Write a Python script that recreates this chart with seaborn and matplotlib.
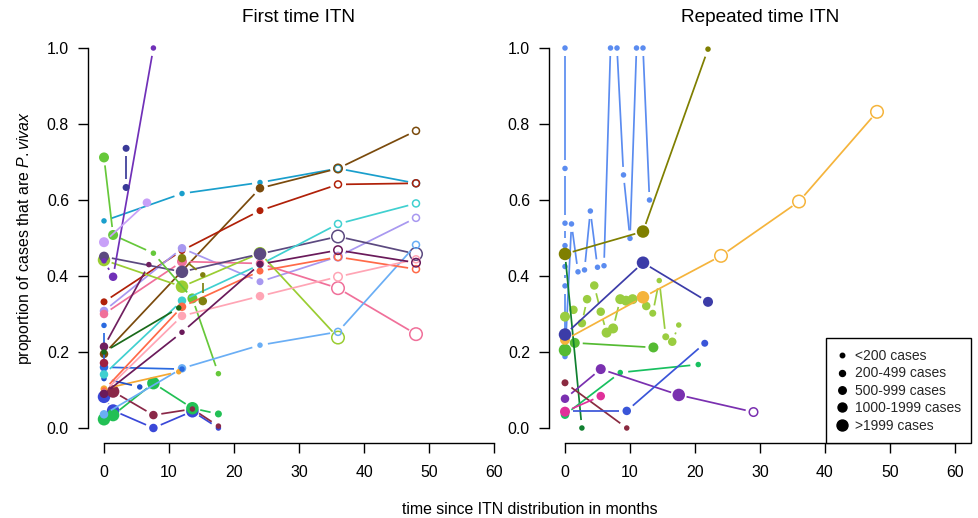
import numpy as np
import pandas as pd
import matplotlib
matplotlib.use("Agg")
import matplotlib.pyplot as plt
from matplotlib.lines import Line2D
import seaborn as sns

# ---------------- data: First time ITN ----------------
# (months, proportion P.vivax, case-size class 1..5, open marker flag)
f_cyan = ([0, 12, 24, 36, 48], [0.545, 0.617, 0.646, 0.683, 0.644], [1, 1, 1, 2, 2], [0, 0, 0, 1, 1])
f_brown = ([0, 24, 36, 48], [0.195, 0.631, 0.683, 0.782], [3, 3, 3, 2], [0, 0, 1, 1])
f_darkred = ([0, 12, 24, 36, 48], [0.332, 0.467, 0.572, 0.641, 0.644], [2, 2, 2, 2, 2], [0, 0, 0, 1, 1])
f_lavender = ([0, 12, 24, 36, 48], [0.308, 0.473, 0.385, 0.451, 0.553], [3, 3, 2, 3, 2], [0, 0, 0, 1, 1])
f_pink = ([0, 12, 24, 36, 48], [0.300, 0.438, 0.433, 0.368, 0.247], [3, 4, 3, 5, 5], [0, 0, 0, 1, 1])
f_yellowgreen = ([0, 12, 24, 36], [0.442, 0.372, 0.460, 0.238], [5, 5, 5, 5], [0, 0, 0, 1])
f_slate = ([0, 12, 24, 36, 48], [0.451, 0.411, 0.458, 0.504, 0.458], [4, 5, 5, 5, 5], [0, 0, 0, 1, 1])
f_lime = ([0, 1.4, 7.6, 13.6, 17.6], [0.712, 0.508, 0.460, 0.341, 0.143], [4, 4, 1, 4, 1], [0, 0, 0, 0, 0])
f_purple = ([0, 1.4, 7.6], [0.440, 0.398, 1.000], [1, 3, 1], [0, 0, 0])
f_navy = ([3.4, 3.4], [0.736, 0.633], [2, 2], [0, 0])
f_royal = ([0, 1.4, 7.6, 13.6, 17.6], [0.082, 0.046, 0.000, 0.044, 0.000], [5, 5, 3, 5, 1], [0, 0, 0, 0, 0])
f_green = ([0, 1.4, 7.6, 13.6, 17.6], [0.023, 0.034, 0.118, 0.052, 0.037], [5, 5, 5, 5, 2], [0, 0, 0, 0, 0])
f_maroon = ([1.4, 7.6, 13.6, 17.6], [0.096, 0.034, 0.050, 0.005], [5, 3, 1, 1], [0, 0, 0, 0])
f_lightblue = ([0, 12, 24, 36, 48], [0.036, 0.157, 0.218, 0.253, 0.482], [3, 3, 1, 2, 2], [0, 0, 0, 1, 1])
f_orange = ([0, 11.5], [0.103, 0.148], [2, 1], [0, 0])
f_blue = ([0, 0, 12], [0.270, 0.160, 0.155], [1, 3, 1], [0, 0, 0])
f_blue2 = ([0, 5.5], [0.130, 0.108], [1, 1], [0, 0])
f_turq = ([0, 12, 24, 36, 48], [0.141, 0.335, 0.430, 0.537, 0.591], [3, 3, 2, 2, 2], [0, 0, 0, 1, 1])
f_coral = ([0, 12, 24, 36, 48], [0.100, 0.319, 0.413, 0.450, 0.418], [1, 3, 2, 2, 2], [0, 0, 0, 1, 1])
f_lightpink = ([0, 12, 24, 36, 48], [0.095, 0.295, 0.347, 0.398, 0.444], [1, 3, 3, 3, 2], [0, 0, 0, 1, 1])
f_plum = ([0, 6.9], [0.214, 0.430], [3, 1], [0, 0])
f_plum2 = ([0, 12, 24, 36, 48], [0.090, 0.252, 0.431, 0.468, 0.435], [3, 1, 2, 3, 3], [0, 0, 0, 1, 1])
f_olive = ([12, 15.2, 15.2], [0.447, 0.403, 0.334], [3, 1, 3], [0, 0, 0])
f_darkgreen = ([0, 11.5], [0.200, 0.316], [1, 1], [0, 0])
f_crimson = ([0], [0.171], [3], [0])
f_lilac = ([0, 6.6], [0.489, 0.593], [4, 3], [0, 0])

# ---------------- data: Repeated time ITN ----------------
r_cornflower = ([0, 0, 0, 0, 0, 0, 0, 1, 2, 3, 3.9, 5, 6, 7, 8, 9, 10, 11, 12, 13],
                [1.0, 0.683, 0.539, 0.480, 0.425, 0.374, 0.188, 0.537, 0.411, 0.416, 0.571,
                 0.423, 0.427, 1.0, 1.0, 0.666, 0.499, 1.0, 1.0, 0.600],
                [1] * 20, [0] * 20)
r_yellowgreen = ([0, 1.3, 2.6, 3.4, 4.5, 5.5, 6.4, 7.4, 8.5, 9.4, 10.4, 12.5, 13.5, 14.5, 15.5, 16.5, 17.5],
                 [0.293, 0.311, 0.276, 0.339, 0.375, 0.306, 0.251, 0.262, 0.339, 0.335, 0.339,
                  0.321, 0.302, 0.388, 0.240, 0.227, 0.271],
                 [4, 3, 3, 3, 3, 3, 4, 4, 4, 4, 4, 3, 2, 1, 2, 3, 1], [0] * 17)
r_lime = ([0, 1.5, 13.6], [0.205, 0.224, 0.212], [5, 4, 4], [0, 0, 0])
r_darkgreen = ([0, 2.6], [0.458, 0.0], [1, 1], [0, 0])
r_olive = ([0, 12, 22], [0.458, 0.517, 0.997], [5, 5, 1], [0, 0, 0])
r_orange = ([0, 12, 24, 36, 48], [0.232, 0.344, 0.453, 0.596, 0.832], [4, 5, 5, 5, 5], [0, 0, 1, 1, 1])
r_navy = ([0, 12, 22], [0.246, 0.435, 0.332], [5, 5, 4], [0, 0, 0])
r_spring = ([0, 8.5, 20.5], [0.035, 0.146, 0.167], [3, 1, 1], [0, 0, 0])
r_purple = ([0, 5.5, 17.5, 29], [0.077, 0.155, 0.087, 0.042], [3, 4, 5, 3], [0, 0, 0, 1])
r_maroon = ([0, 9.5], [0.119, 0.0], [2, 1], [0, 0])
r_royal = ([0, 9.5, 21.5], [0.045, 0.045, 0.223], [2, 3, 2], [0, 0, 0])
r_magenta = ([0, 5.5], [0.043, 0.084], [4, 3], [0, 0])

size_labels = ["<200 cases", "200-499 cases", "500-999 cases", "1000-1999 cases", ">1999 cases"]
x_ticks = [0, 10, 20, 30, 40, 50, 60]
y_ticks = [0.0, 0.2, 0.4, 0.6, 0.8, 1.0]

first_series = [
    (f_cyan, "#1a9fcc"), (f_brown, "#7a4a0c"), (f_darkred, "#b02008"), (f_lavender, "#a898f0"),
    (f_pink, "#f0709a"), (f_yellowgreen, "#9acd32"), (f_slate, "#5c4a80"), (f_lime, "#66c83a"),
    (f_purple, "#7030b8"), (f_navy, "#3a3a98"), (f_royal, "#3a48d8"), (f_green, "#22c055"),
    (f_maroon, "#8a2848"), (f_lightblue, "#6aaef5"), (f_orange, "#f5a832"), (f_blue, "#2a6ae0"),
    (f_blue2, "#2050c8"), (f_turq, "#40d0d0"), (f_coral, "#ff6a48"), (f_lightpink, "#ffa5b5"),
    (f_plum, "#702060"), (f_plum2, "#6a1a5a"), (f_olive, "#808010"), (f_darkgreen, "#1a6a1a"),
    (f_crimson, "#a02040"), (f_lilac, "#c8a0f8"),
]
repeat_series = [
    (r_cornflower, "#5b8cf0"), (r_yellowgreen, "#9acd40"), (r_lime, "#55bb33"),
    (r_darkgreen, "#108030"), (r_olive, "#7f7f00"), (r_orange, "#f5b43c"), (r_navy, "#3c3ca8"),
    (r_spring, "#18c060"), (r_purple, "#7a30b0"), (r_maroon, "#8a2a40"), (r_royal, "#3a55d8"),
    (r_magenta, "#e0309a"),
]

# ---------------- style ----------------
sns.set_theme(style="white")
plt.rcParams["font.family"] = ["Liberation Sans", "DejaVu Sans"]
plt.rcParams["mathtext.fontset"] = "custom"
plt.rcParams["mathtext.rm"] = "Liberation Sans"
plt.rcParams["mathtext.it"] = "Liberation Sans:italic"

SIZE_PX = [5.5, 7, 8.5, 10, 12.5]
LEGEND_PX = [4.5, 6, 7.5, 9, 11]
sizes_area = {k + 1: (px * 0.72) ** 2 for k, px in enumerate(SIZE_PX)}

W, H = 979, 518
fig = plt.figure(figsize=(W / 100, H / 100), dpi=100)
axL = fig.add_axes([88.4 / W, 74.8 / H, 421.2 / W, 410.4 / H])
axR = fig.add_axes([549.4 / W, 74.8 / H, 421.2 / W, 410.4 / H])


def style_axis(ax, title):
    ax.set_xlim(-2.4, 62.4)
    ax.set_ylim(-0.04, 1.04)
    for side in ("top", "right"):
        ax.spines[side].set_visible(False)
    ax.spines["left"].set_bounds(0, 1)
    ax.spines["bottom"].set_bounds(0, 60)
    for side in ("left", "bottom"):
        ax.spines[side].set_color("black")
        ax.spines[side].set_linewidth(1.0)
    ax.set_xticks(x_ticks)
    ax.set_yticks(y_ticks)
    ax.set_yticklabels([f"{v:.1f}" for v in y_ticks])
    ax.tick_params(axis="both", which="major", direction="out", length=7, width=1,
                   color="black", labelsize=11.4, labelcolor="black", bottom=True, left=True)
    ax.tick_params(axis="x", pad=8.5)
    ax.tick_params(axis="y", pad=7)
    ax.set_title(title, fontsize=13.7, pad=8, color="black")
    ax.grid(False)


def gapped(ax, xs, ys, color, z, gap=8.0):
    pts = ax.transData.transform(np.column_stack([xs, ys]))
    inv = ax.transData.inverted()
    for a, b in zip(pts[:-1], pts[1:]):
        d = b - a
        L = np.hypot(*d)
        if L <= 2 * gap:
            continue
        u = d / L
        seg = inv.transform(np.vstack([a + u * gap, b - u * gap]))
        ax.plot(seg[:, 0], seg[:, 1], color=color, lw=1.25, zorder=z, solid_capstyle="butt")


def draw(ax, series):
    for i, ((m, p, s, o), color) in enumerate(series):
        z = 3 + 2 * i
        gapped(ax, m, p, color, z)
        df = pd.DataFrame(dict(m=m, p=p, s=s, o=o))
        filled = df[df.o == 0]
        if len(filled):
            sns.scatterplot(data=filled, x="m", y="p", size="s", sizes=sizes_area, color=color,
                            edgecolor="none", linewidth=0, legend=False, ax=ax, zorder=z + 1)
        hollow = df[df.o == 1]
        if len(hollow):
            sns.scatterplot(data=hollow, x="m", y="p", size="s", sizes=sizes_area, color=color,
                            legend=False, ax=ax, zorder=z + 1)
            coll = ax.collections[-1]
            coll.set_facecolor("none")
            coll.set_edgecolor(color)
            coll.set_linewidth(1.1)
    ax.set_xlabel("")
    ax.set_ylabel("")


style_axis(axL, "First time ITN")
style_axis(axR, "Repeated time ITN")
draw(axL, first_series)
draw(axR, repeat_series)

axL.set_ylabel(r"proportion of cases that are $\mathit{P.vivax}$", fontsize=11.4, color="black")
axL.yaxis.set_label_coords(-0.13, 0.5)

fig.text(529.5 / W, (H - 509) / H, "time since ITN distribution in months",
         ha="center", va="center", fontsize=11.4, color="black")

handles = [Line2D([], [], ls="", marker="o", color="black", markersize=px * 0.72) for px in LEGEND_PX]
leg = axR.legend(handles, size_labels, loc="lower right", bbox_to_anchor=(1.002, 0.0),
                 borderaxespad=0, frameon=True, fancybox=False, edgecolor="black",
                 fontsize=10, handlelength=0.8, handletextpad=0.5, labelspacing=0.25,
                 borderpad=0.75)
leg.get_frame().set_linewidth(1.0)
leg.get_frame().set_facecolor("white")
leg.get_frame().set_alpha(1)
leg.set_zorder(200)

fig.savefig("out.png", dpi=100, facecolor="white")
